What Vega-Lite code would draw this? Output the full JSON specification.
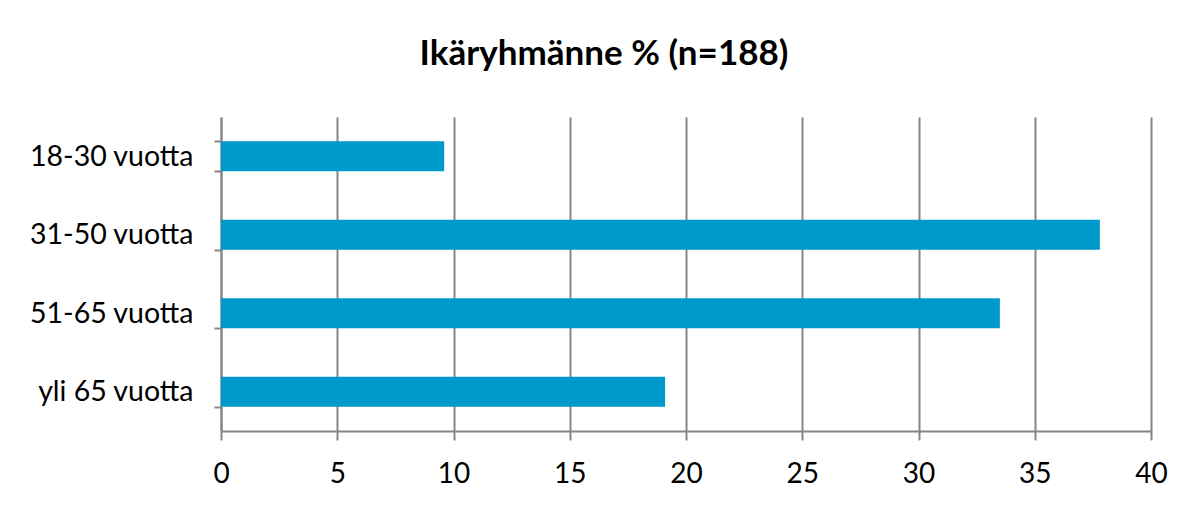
{
  "$schema": "https://vega.github.io/schema/vega-lite/v6.json",
  "autosize": {"type": "none"},
  "width": 930,
  "height": 314,
  "padding": {"left": 221, "top": 117, "right": 49, "bottom": 78},
  "background": "white",
  "title": {
    "text": "Ikäryhmänne % (n=188)",
    "font": "Lato",
    "fontSize": 35,
    "fontWeight": "bold",
    "color": "#000000",
    "anchor": "middle",
    "dx": -82,
    "baseline": "alphabetic",
    "offset": 3
  },
  "data": {
    "values": [
      {"group": "18-30 vuotta", "pct": 9.6},
      {"group": "31-50 vuotta", "pct": 37.8},
      {"group": "51-65 vuotta", "pct": 33.5},
      {"group": "yli 65 vuotta", "pct": 19.1}
    ]
  },
  "mark": {"type": "bar", "color": "#0099CC"},
  "encoding": {
    "y": {
      "field": "group",
      "type": "nominal",
      "sort": null,
      "title": null,
      "scale": {"paddingInner": 0.62, "paddingOuter": 0.31},
      "axis": {
        "tickBand": "extent",
        "tickSize": 7,
        "tickWidth": 2,
        "tickColor": "#868686",
        "domainColor": "#868686",
        "domainWidth": 2,
        "grid": false,
        "labelFont": "Lato",
        "labelFontSize": 28.5,
        "labelColor": "#000000",
        "labelPadding": 21
      }
    },
    "x": {
      "field": "pct",
      "type": "quantitative",
      "title": null,
      "scale": {"domain": [0, 40], "nice": false},
      "axis": {
        "values": [0, 5, 10, 15, 20, 25, 30, 35, 40],
        "grid": true,
        "gridColor": "#868686",
        "gridWidth": 2,
        "tickSize": 9,
        "tickWidth": 2,
        "tickColor": "#868686",
        "domainColor": "#868686",
        "domainWidth": 2,
        "labelFont": "Lato",
        "labelFontSize": 28,
        "labelColor": "#000000",
        "labelPadding": 20,
        "labelFlush": false
      }
    }
  },
  "config": {"view": {"stroke": null}}
}
